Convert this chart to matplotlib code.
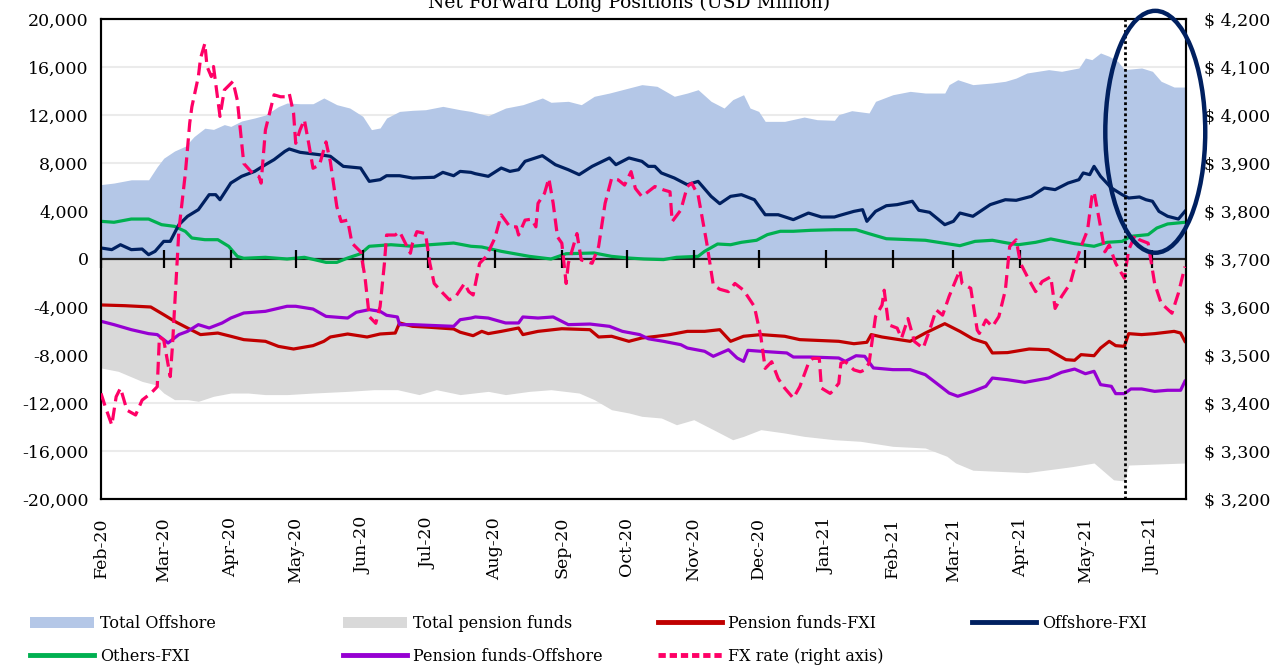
import numpy as np
import pandas as pd
import matplotlib
matplotlib.use('Agg')
import matplotlib.pyplot as plt
import matplotlib.dates as mdates
from matplotlib.patches import Patch, Ellipse
from matplotlib.lines import Line2D
from matplotlib.ticker import FuncFormatter, MultipleLocator

# all series: x = days since 1 Feb 2020
start = np.datetime64('2020-02-01')
end_day = 501.5
event_day = 473.5

total_offshore_days = [0, 6, 14, 22, 26, 29, 34, 39, 43, 48, 52, 57, 60, 65, 71, 76, 82, 86, 92, 98,
                       103, 109, 115, 121, 125, 129, 132, 138, 144, 150, 158, 166, 171, 179, 187, 195,
                       204, 208, 216, 222, 228, 235, 244, 250, 257, 265, 271, 276, 282, 288, 292, 297,
                       300, 304, 307, 316, 325, 331, 339, 341, 347, 355, 358, 366, 374, 381, 390, 392,
                       396, 403, 412, 418, 423, 428, 438, 444, 452, 455, 458, 462, 466, 470, 473, 481,
                       486, 490, 496, 501]
total_offshore = [6200, 6330, 6600, 6600, 7700, 8400, 9000, 9400, 10200, 10900, 10800, 11200, 11050,
                  11500, 11750, 12000, 12700, 13000, 12940, 12940, 13420, 12860, 12580, 11890, 10780,
                  10920, 11750, 12300, 12390, 12440, 12720, 12440, 12300, 11940, 12580, 12860, 13420,
                  13060, 13140, 12860, 13560, 13830, 14250, 14530, 14390, 13560, 13830, 14110, 13140,
                  12580, 13280, 13690, 12580, 12300, 11470, 11470, 11830, 11610, 11560, 12030, 12360,
                  12170, 13140, 13690, 13970, 13830, 13830, 14530, 14940, 14530, 14670, 14810, 15080,
                  15500, 15780, 15640, 15920, 16750, 16610, 17170, 16890, 16470, 15780, 15920, 15640,
                  14810, 14330, 14330]

total_pension_days = [0, 8, 19, 25, 29, 34, 40, 45, 52, 60, 68, 76, 86, 98, 114, 126, 137, 147, 155,
                      166, 179, 187, 198, 208, 221, 228, 236, 244, 250, 259, 266, 274, 283, 292, 297,
                      305, 316, 325, 339, 351, 366, 381, 391, 395, 403, 428, 449, 459, 468, 473, 475,
                      501]
total_pension = [-9080, -9360, -10200, -10470, -11170, -11720, -11720, -11860, -11440, -11170, -11170,
                 -11300, -11300, -11170, -11030, -10890, -10890, -11300, -10890, -11300, -11030, -11300,
                 -11030, -10890, -11170, -11720, -12560, -12830, -13110, -13250, -13810, -13390, -14220,
                 -15060, -14780, -14220, -14500, -14780, -15060, -15190, -15610, -15750, -16440, -17000,
                 -17600, -17800, -17300, -17000, -18400, -18500, -17170, -17000]

offshore_fxi_days = [0, 5, 9, 14, 19, 22, 25, 29, 32, 36, 40, 45, 50, 53, 55, 60, 65, 71, 76, 80, 85,
                     87, 92, 101, 106, 112, 120, 124, 129, 132, 138, 144, 154, 158, 163, 166, 171, 173,
                     179, 185, 189, 193, 196, 204, 210, 216, 221, 227, 235, 238, 244, 250, 253, 256,
                     259, 265, 271, 276, 282, 286, 291, 296, 302, 307, 313, 320, 327, 333, 339, 341,
                     348, 352, 354, 358, 363, 368, 375, 378, 383, 390, 394, 397, 403, 411, 418, 423,
                     430, 436, 441, 447, 452, 454, 457, 459, 462, 467, 472, 475, 480, 483, 486, 489,
                     493, 498, 501]
offshore_fxi = [920, 780, 1190, 780, 830, 360, 640, 1470, 1470, 2860, 3560, 4110, 5360, 5360, 4940,
                6330, 6890, 7300, 7860, 8280, 8970, 9170, 8890, 8690, 8560, 7720, 7580, 6470, 6610,
                6940, 6940, 6750, 6810, 7220, 6940, 7300, 7220, 7110, 6890, 7580, 7300, 7440, 8140,
                8610, 7860, 7440, 7030, 7720, 8420, 7860, 8420, 8140, 7720, 7720, 7170, 6750, 6190,
                6470, 5220, 4610, 5220, 5360, 4940, 3690, 3690, 3280, 3830, 3500, 3500, 3610, 3970,
                4110, 3140, 3970, 4440, 4530, 4810, 4060, 3890, 2860, 3140, 3830, 3560, 4530, 4940,
                4890, 5220, 5920, 5780, 6330, 6610, 7170, 7030, 7720, 6890, 5920, 5360, 5080, 5170,
                4940, 4810, 3970, 3560, 3330, 3970]

others_fxi_days = [0, 6, 14, 22, 28, 34, 39, 42, 48, 54, 59, 63, 66, 76, 86, 94, 104, 109, 114, 120,
                   124, 134, 144, 152, 163, 171, 176, 185, 198, 208, 215, 228, 236, 244, 251, 260,
                   266, 276, 279, 285, 291, 296, 303, 308, 314, 320, 328, 339, 349, 355, 363, 374,
                   381, 391, 397, 404, 412, 419, 424, 432, 439, 450, 459, 465, 472, 476, 484, 488,
                   493, 501]
others_fxi = [3140, 3060, 3330, 3330, 2860, 2720, 2300, 1750, 1610, 1610, 1060, 220, 60, 140, 0, 140,
              -280, -280, 80, 440, 1060, 1190, 1060, 1190, 1330, 1060, 1000, 640, 220, 0, 440, 500,
              220, 80, 0, -50, 140, 220, 640, 1250, 1190, 1390, 1560, 2030, 2310, 2310, 2390, 2440,
              2440, 2110, 1690, 1610, 1560, 1280, 1110, 1470, 1560, 1330, 1190, 1390, 1670, 1280,
              1060, 1390, 1470, 1890, 2030, 2580, 2920, 3060]

pension_fxi_days = [0, 11, 23, 29, 34, 40, 46, 54, 60, 66, 76, 82, 89, 98, 103, 106, 114, 123, 129,
                    136, 138, 144, 152, 163, 166, 172, 176, 179, 185, 193, 195, 202, 213, 226, 230,
                    236, 244, 250, 257, 263, 271, 279, 286, 291, 297, 305, 316, 323, 341, 348, 354,
                    356, 361, 374, 381, 390, 397, 403, 409, 412, 419, 429, 438, 446, 450, 453, 459,
                    462, 466, 469, 473, 475, 481, 487, 496, 499, 501]
pension_fxi = [-3830, -3890, -4000, -4640, -5190, -5750, -6300, -6170, -6440, -6720, -6860, -7280,
               -7500, -7220, -6860, -6500, -6250, -6500, -6250, -6170, -5330, -5610, -5690, -5830,
               -6100, -6390, -6030, -6220, -6030, -5750, -6300, -6030, -5810, -5890, -6500, -6440,
               -6860, -6580, -6440, -6300, -6030, -6030, -5890, -6860, -6440, -6300, -6440, -6720,
               -6860, -7060, -6940, -6300, -6500, -6860, -6170, -5390, -6030, -6660, -7000, -7830,
               -7800, -7500, -7560, -8390, -8440, -7970, -8060, -7420, -6860, -7220, -7280, -6220,
               -6300, -6220, -6030, -6170, -6860]

pension_offshore_days = [0, 6, 14, 22, 26, 31, 36, 40, 45, 50, 56, 60, 66, 76, 86, 90, 98, 104, 114,
                         118, 124, 129, 132, 137, 138, 144, 152, 163, 166, 171, 173, 179, 187, 193,
                         195, 202, 209, 216, 226, 235, 241, 249, 253, 260, 268, 271, 279, 283, 290,
                         294, 297, 299, 305, 317, 320, 328, 341, 344, 349, 353, 357, 366, 374, 381,
                         386, 392, 396, 403, 409, 412, 419, 427, 438, 444, 450, 455, 459, 462, 467,
                         469, 473, 476, 481, 487, 493, 499, 501]
pension_offshore = [-5190, -5470, -5890, -6220, -6300, -7000, -6300, -6030, -5470, -5750, -5330,
                    -4920, -4500, -4360, -3940, -3940, -4170, -4780, -4920, -4440, -4220, -4360,
                    -4690, -4830, -5470, -5470, -5530, -5610, -5060, -4920, -4830, -4920, -5330,
                    -5330, -4830, -4920, -4830, -5470, -5420, -5610, -6030, -6300, -6650, -6860,
                    -7140, -7420, -7690, -8110, -7560, -8250, -8530, -7610, -7690, -7830, -8170,
                    -8170, -8250, -8530, -8060, -8110, -9080, -9220, -9220, -9640, -10330, -11170,
                    -11440, -11030, -10610, -9920, -10060, -10280, -9920, -9440, -9170, -9560, -9360,
                    -10470, -10610, -11220, -11220, -10830, -10830, -11030, -10940, -10940, -10190]

fx_days = [0, 2, 5, 7, 9, 12, 16, 19, 23, 26, 27, 29, 32, 33, 36, 39, 41, 42, 45, 46, 48, 49, 51,
           52, 55, 57, 61, 63, 66, 70, 73, 74, 76, 80, 83, 85, 87, 89, 90, 92, 94, 96, 98, 101, 104,
           106, 109, 111, 114, 116, 120, 122, 124, 127, 129, 131, 132, 136, 138, 143, 144, 146, 150,
           152, 154, 158, 161, 164, 168, 170, 172, 175, 178, 182, 185, 189, 192, 193, 196, 199, 201,
           202, 205, 207, 209, 211, 213, 215, 216, 220, 222, 227, 230, 233, 236, 239, 242, 245, 247,
           250, 254, 256, 260, 263, 264, 268, 271, 273, 276, 280, 283, 286, 290, 293, 297, 302, 305,
           307, 310, 313, 316, 320, 323, 327, 329, 332, 333, 337, 338, 341, 342, 344, 348, 351, 353,
           355, 358, 361, 362, 364, 368, 370, 373, 376, 380, 383, 386, 389, 392, 397, 398, 402, 405,
           406, 409, 412, 415, 418, 420, 423, 425, 429, 432, 435, 439, 441, 444, 448, 451, 453, 456,
           458, 459, 462, 464, 466, 469, 473, 475, 478, 480, 484, 487, 490, 495, 498, 501]
fx_rate = [3420, 3392, 3354, 3413, 3431, 3385, 3375, 3406, 3420, 3434, 3538, 3531, 3455, 3517, 3760,
           3879, 3983, 4017, 4080, 4118, 4149, 4101, 4080, 4101, 3997, 4052, 4070, 4031, 3899, 3879,
           3872, 3858, 3969, 4042, 4038, 4038, 4045, 4004, 3941, 3969, 3990, 3941, 3889, 3896, 3944,
           3903, 3809, 3778, 3781, 3733, 3715, 3663, 3580, 3566, 3601, 3691, 3750, 3750, 3757, 3712,
           3733, 3757, 3753, 3691, 3649, 3629, 3615, 3622, 3649, 3632, 3625, 3691, 3705, 3743, 3792,
           3767, 3767, 3750, 3781, 3783, 3767, 3816, 3837, 3868, 3816, 3746, 3733, 3649, 3691, 3753,
           3698, 3691, 3726, 3816, 3868, 3865, 3854, 3882, 3847, 3830, 3844, 3851, 3844, 3840, 3778,
           3802, 3851, 3858, 3833, 3733, 3646, 3637, 3632, 3649, 3635, 3601, 3538, 3472, 3486, 3451,
           3431, 3410, 3434, 3483, 3493, 3493, 3431, 3420, 3424, 3441, 3483, 3486, 3469, 3465, 3469,
           3483, 3580, 3604, 3635, 3563, 3556, 3535, 3576, 3528, 3514, 3552, 3594, 3583, 3622, 3677,
           3649, 3639, 3552, 3545, 3573, 3559, 3580, 3635, 3726, 3740, 3691, 3656, 3632, 3653, 3663,
           3597, 3622, 3649, 3698, 3726, 3760, 3830, 3840, 3767, 3715, 3729, 3691, 3660, 3719, 3750,
           3740, 3733, 3649, 3608, 3587, 3629, 3684]

labels = ['Total Offshore', 'Total pension funds', 'Pension funds-FXI', 'Offshore-FXI',
          'Others-FXI', 'Pension funds-Offshore', 'FX rate (right axis)']
colors = {'Total Offshore': '#b4c7e7', 'Total pension funds': '#d9d9d9',
          'Pension funds-FXI': '#c00000', 'Offshore-FXI': '#002060',
          'Others-FXI': '#00b050', 'Pension funds-Offshore': '#9600d2',
          'FX rate (right axis)': '#ff0066'}


def to_dates(days):
    """Turn day offsets from the start date into datetimes."""
    return start + np.array(days, dtype='timedelta64[D]')


def day_num(day):
    """Matplotlib date number for a (fractional) day offset."""
    return mdates.date2num(start) + day


plt.rcParams['font.family'] = 'DejaVu Serif'
fig = plt.figure(figsize=(12.71, 6.67), dpi=100)
ax = fig.add_axes([101 / 1271, 1 - 499 / 667, 1085 / 1271, 480 / 667])
ax2 = ax.twinx()

ax.fill_between(to_dates(total_offshore_days), 0, total_offshore, color=colors['Total Offshore'],
                lw=0, zorder=1)
ax.fill_between(to_dates(total_pension_days), 0, total_pension, color=colors['Total pension funds'],
                lw=0, zorder=1)
ax.axhline(0, color='#222222', lw=1.6, zorder=2)

series = [('Others-FXI', others_fxi_days, others_fxi),
          ('Pension funds-FXI', pension_fxi_days, pension_fxi),
          ('Pension funds-Offshore', pension_offshore_days, pension_offshore),
          ('Offshore-FXI', offshore_fxi_days, offshore_fxi)]
for name, days, vals in series:
    ax.plot(to_dates(days), vals, color=colors[name], lw=2.3, zorder=3, solid_joinstyle='round')

# month ticks crossing the zero line
months = pd.date_range('2020-02-01', '2021-06-01', freq='MS')
ax.plot(months, np.zeros(len(months)), ls='none', marker='|', ms=13, mew=1.6, color='black',
        zorder=4, clip_on=False)

ax2.plot(to_dates(fx_days), fx_rate, color=colors['FX rate (right axis)'], lw=2.3,
         dashes=(4, 2), zorder=3)
ax2.axvline(day_num(event_day), color='black', lw=2, ls=(0, (1, 1)), zorder=4)
ax2.add_patch(Ellipse((day_num(487.3), 3965), width=46.2, height=504, fill=False,
                      edgecolor='#002060', lw=3.2, clip_on=False, zorder=5))

ax.set_xlim(day_num(0), day_num(end_day))
ax.set_ylim(-20000, 20000)
ax2.set_ylim(3200, 4200)
ax.yaxis.set_major_locator(MultipleLocator(4000))
ax2.yaxis.set_major_locator(MultipleLocator(100))
ax.yaxis.set_major_formatter(FuncFormatter(lambda v, p: f'{v:,.0f}'))
ax2.yaxis.set_major_formatter(FuncFormatter(lambda v, p: f'$ {v:,.0f}'))
ax.xaxis.set_major_locator(mdates.MonthLocator())
ax.xaxis.set_major_formatter(mdates.DateFormatter('%b-%y'))
ax.tick_params(axis='x', length=0, pad=13, labelsize=12.5, labelrotation=90)
ax.tick_params(axis='y', length=0, pad=9, labelsize=12.5)
ax2.tick_params(axis='y', length=0, pad=13, labelsize=12.5)
ax.yaxis.grid(True, color='#ebebeb', lw=1.5, zorder=0)
ax.set_axisbelow(True)
for a in (ax, ax2):
    for sp in a.spines.values():
        sp.set_linewidth(1.5)
        sp.set_color('black')

# the title sits partly above the top edge, as in the source chart
fig.text(0.495, 1 - 8.5 / 667, 'Net Forward Long Positions (USD Million)', ha='center',
         va='baseline', fontsize=13.5)

handles = {
    'Total Offshore': Patch(facecolor=colors['Total Offshore'], edgecolor='none'),
    'Total pension funds': Patch(facecolor=colors['Total pension funds'], edgecolor='none'),
    'Pension funds-FXI': Line2D([], [], color=colors['Pension funds-FXI'], lw=3.5),
    'Offshore-FXI': Line2D([], [], color=colors['Offshore-FXI'], lw=3.5),
    'Others-FXI': Line2D([], [], color=colors['Others-FXI'], lw=3.5),
    'Pension funds-Offshore': Line2D([], [], color=colors['Pension funds-Offshore'], lw=3.5),
    'FX rate (right axis)': Line2D([], [], color=colors['FX rate (right axis)'], lw=3.5,
                                   dashes=(1.5, 0.8)),
}
col_x = [30, 343, 658, 972]
for i, x in enumerate(col_x):
    names = labels[i::4]
    fig.legend([handles[n] for n in names], names, loc='upper left',
               bbox_to_anchor=(x / 1271, 1 - 615 / 667), frameon=False, fontsize=11.5,
               borderpad=0, borderaxespad=0, handlelength=4.0, handletextpad=0.4,
               labelspacing=1.0)

fig.savefig('out.png', dpi=100)
